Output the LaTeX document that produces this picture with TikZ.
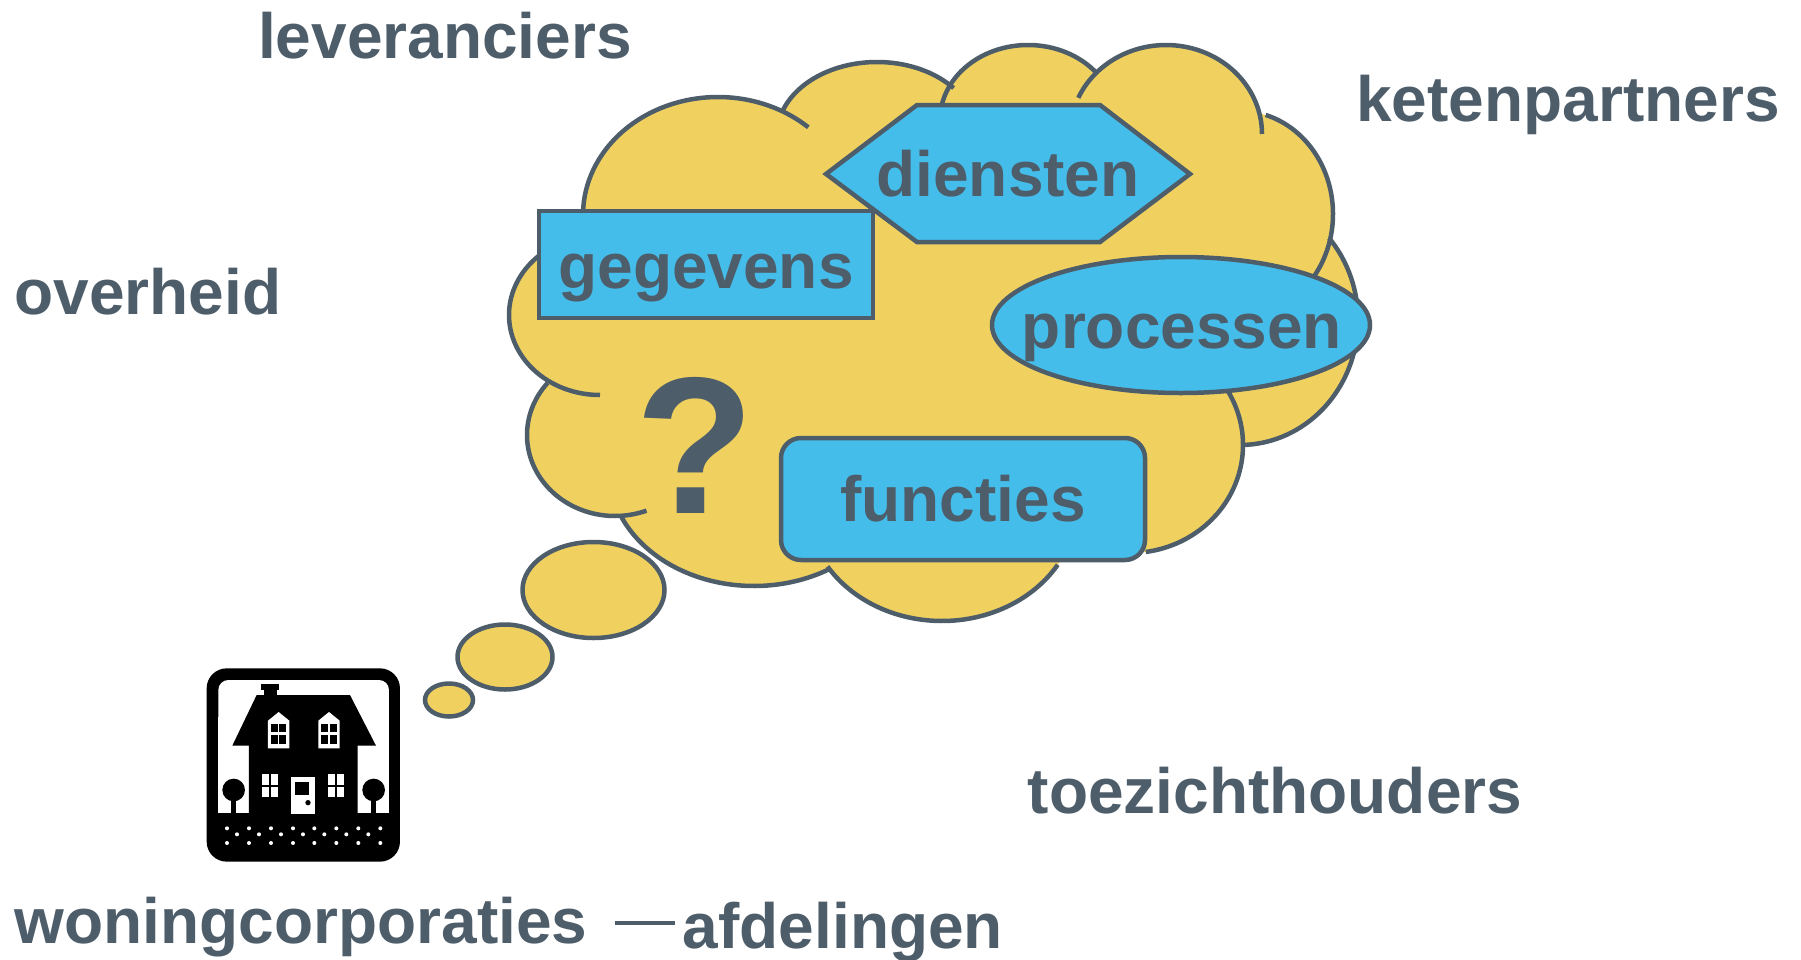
\documentclass[tikz,border=0pt]{standalone}
\usepackage{fontspec}
\setmainfont{Liberation Sans}
\definecolor{slate}{HTML}{4E5D6A}
\definecolor{cloudfill}{HTML}{F0D160}
\definecolor{shapeblue}{HTML}{45BDEB}
\tikzset{
  outline/.style={draw=slate,line width=4.5pt,line join=miter},
  bluebox/.style={outline,fill=shapeblue},
  lbl/.style={text=slate,inner sep=0pt,anchor=base,font=\fontsize{64}{70}\selectfont\bfseries},
  bubble/.style={outline,fill=cloudfill},
}
\def\lobelist{718/215/135/118/180/312,
 877/135/100/73/200/320,
 1028/120/88/75/180/320,
 1166/134/96/89/204/360,
 1240/214/93/103/286/397,
 1240/320/118/125/-41/88,
 1130/445/113/108/-30/82,
 942/505/135/116/31/148,
 754/470/145/116/58/156,
 615/435/88/81/69/220,
 600/315/91/80/90/232}
\begin{document}
\begin{tikzpicture}[x=1pt,y=-1pt]
\useasboundingbox (0,0) rectangle (1801,959);
% cloud
\fill[cloudfill] (583,211)--(784,113)--(948,89)--(1079,98)--(1262,117)--(1330,247)--(1350,338)--(1242,445)--(1145,549)--(1057,560)--(830,568)--(622,516)--(549,384)--(509,315)--cycle;
\foreach \lcx/\lcy/\lrx/\lry/\lsa/\lea in \lobelist {
  \fill[cloudfill] plot[domain=0:360,samples=72] ({\lcx+\lrx*cos(\x)},{\lcy+\lry*sin(\x)});
}
\foreach \lcx/\lcy/\lrx/\lry/\lsa/\lea in \lobelist {
  \draw[outline] plot[domain=\lsa:\lea,samples=60] ({\lcx+\lrx*cos(\x)},{\lcy+\lry*sin(\x)});
}
% bubbles
\draw[bubble] (593.5,590) ellipse [x radius=71,y radius=48];
\draw[bubble] (505,657) ellipse [x radius=47.5,y radius=32.5];
\draw[bubble] (449,700) ellipse [x radius=24,y radius=16.5];
% shapes
\draw[bluebox] (826,174)--(917,105)--(1100,105)--(1190,174)--(1100,242)--(917,242)--cycle;
\draw[bluebox] (539,211) rectangle (873,318);
\draw[bluebox] (1181,325) ellipse [x radius=189,y radius=68];
\draw[bluebox,rounded corners=20pt] (781,438) rectangle (1145,560);
% labels
\node[lbl] (dienstenL) at (1008,196) {diensten};
\node[lbl] (gegevensL) at (706,288) {gegevens};
\node[lbl] (processenL) at (1182,348) {processen};
\node[lbl] (functiesL) at (963,521) {functies};
\node[lbl,font=\fontsize{195}{200}\selectfont\bfseries] (vraag) at (695,513) {?};
\node[lbl] (lev) at (445,58) {leveranciers};
\node[lbl] (ket) at (1568,121) {ketenpartners};
\node[lbl] (ovh) at (148,314) {overheid};
\node[lbl] (toe) at (1275,813) {toezichthouders};
\node[lbl] (won) at (301,943) {woningcorporaties};
\node[lbl] (afd) at (843,948) {afdelingen};
\coordinate (lineY) at (0,923);
\draw[slate,line width=4pt,shorten <=28pt,shorten >=8pt] (won.base east |- lineY) -- (afd.base west |- lineY);
% house icon
\begin{scope}[shift={(180,650)},x=.3333pt,y=-.3333pt]
\fill[black,rounded corners=20pt] (80,55) rectangle (660,635);
\fill[white,rounded corners=10pt] (115,90) rectangle (627,300);
\fill[white] (115,200) rectangle (627,490);
\fill[black] (230,135)--(510,135)--(588,287)--(533,287)--(533,495)--(207,495)--(207,287)--(157,287)--cycle;
\fill[black] (252,140) rectangle (290,118);
\fill[black] (243,102) rectangle (297,120);
\foreach \dx in {0,151}{
  \begin{scope}[xshift=\dx*.3333pt]
  \fill[white] (264,295)--(264,212)--(296,186)--(328,212)--(328,295)--cycle;
  \fill[black] (273,222) rectangle (294,247);
  \fill[black] (298,222) rectangle (319,247);
  \fill[black] (273,255) rectangle (294,282);
  \fill[black] (298,255) rectangle (319,282);
  \end{scope}
}
\foreach \wx in {246,444}{
  \fill[white] (\wx,372) rectangle ++(21,32);
  \fill[white] (\wx+27,372) rectangle ++(21,32);
  \fill[white] (\wx,410) rectangle ++(21,31);
  \fill[white] (\wx+27,410) rectangle ++(21,31);
}
\fill[white] (333,381) rectangle (405,492);
\fill[black] (345,396) rectangle (387,435);
\fill[black] (384,458) circle [radius=8];
\foreach \tx in {161,581}{
  \fill[black] (\tx,420) circle [radius=34];
  \fill[black] (\tx-8,445) rectangle (\tx+8,495);
}
\foreach \px in {141,207,273,339,403,469,535,601}{
  \fill[white] (\px,535) circle [radius=6];
  \fill[white] (\px,579) circle [radius=6];
}
\foreach \px in {171,237,303,369,433,499,565}{
  \fill[white] (\px,553) circle [radius=6];
}
\end{scope}
\end{tikzpicture}
\end{document}
